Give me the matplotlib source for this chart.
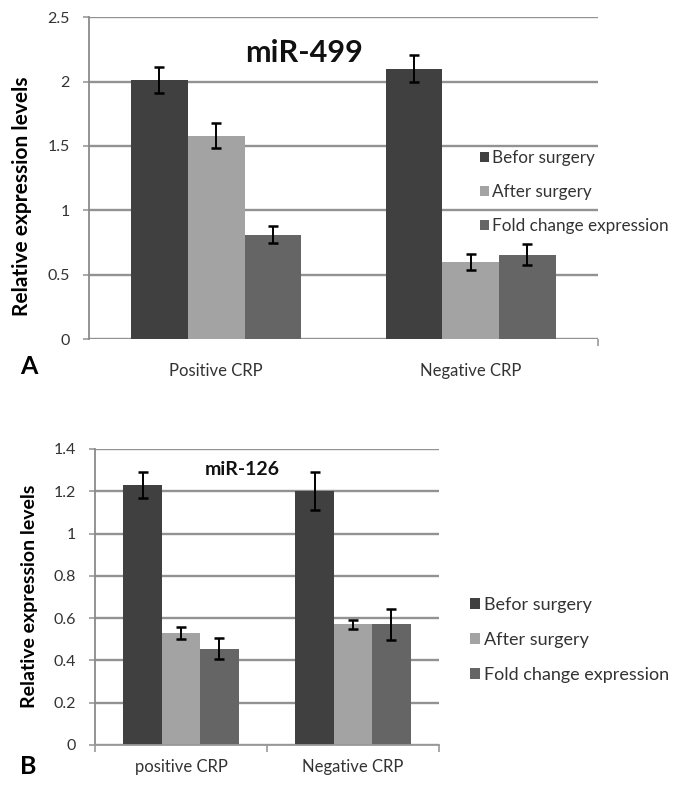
import matplotlib
matplotlib.use("Agg")
import matplotlib.pyplot as plt
import numpy as np

plt.rcParams['font.family'] = ['Lato', 'DejaVu Sans']

series_names = ["Befor surgery", "After surgery", "Fold change expression"]
colors = ["#404040", "#a3a3a3", "#656565"]

# Panel A: miR-499
cats_a = ["Positive CRP", "Negative CRP"]
before_a = [2.01, 2.10]
before_a_err = [0.10, 0.105]
after_a = [1.58, 0.60]
after_a_err = [0.10, 0.06]
fold_a = [0.81, 0.655]
fold_a_err = [0.065, 0.08]
yticks_a = [0, 0.5, 1, 1.5, 2, 2.5]
yticklabels_a = ["0", "0.5", "1", "1.5", "2", "2.5"]

# Panel B: miR-126
cats_b = ["positive CRP", "Negative CRP"]
before_b = [1.23, 1.20]
before_b_err = [0.06, 0.09]
after_b = [0.53, 0.57]
after_b_err = [0.03, 0.022]
fold_b = [0.455, 0.57]
fold_b_err = [0.05, 0.072]
yticks_b = [0, 0.2, 0.4, 0.6, 0.8, 1.0, 1.2, 1.4]
yticklabels_b = ["0", "0.2", "0.4", "0.6", "0.8", "1", "1.2", "1.4"]

fig = plt.figure(figsize=(6.86, 7.89), dpi=100)

def draw(ax, cats, vals, errs, yticks, yticklabels, ymax, xpad, minor):
    x = np.arange(len(cats))
    w = 0.223
    for i, (v, e) in enumerate(zip(vals, errs)):
        ax.bar(x + (i - 1) * w, v, w, color=colors[i], label=series_names[i], zorder=2)
        ax.errorbar(x + (i - 1) * w, v, yerr=e, fmt='none', ecolor='black',
                    elinewidth=1.4, capsize=3.5, capthick=1.8, zorder=3)
    ax.set_xlim(-0.5, len(cats) - 0.5)
    ax.set_ylim(0, ymax)
    ax.set_yticks(yticks)
    ax.set_yticklabels(yticklabels)
    ax.yaxis.grid(True, color="#929292", linewidth=1.7, zorder=0)
    ax.set_axisbelow(True)
    ax.set_xticks(x)
    ax.set_xticklabels(cats)
    ax.set_xticks(minor, minor=True)
    ax.tick_params(axis='x', which='major', length=0, pad=xpad, labelsize=12, labelcolor="#333333")
    ax.tick_params(axis='x', which='minor', length=5, width=1.2, color="#999999", direction='out')
    ax.tick_params(axis='y', length=4, width=1.2, color="#999999", labelsize=11.5,
                   labelcolor="#333333", pad=10)
    for s in ["top", "right"]:
        ax.spines[s].set_visible(False)
    ax.spines["left"].set_color("#8a8a8a")
    ax.spines["bottom"].set_color("#999999")
    ax.spines["left"].set_linewidth(1.3)
    ax.spines["bottom"].set_linewidth(1.3)

axA = fig.add_axes([0.1297, 0.5703, 0.742, 0.408])
draw(axA, cats_a, [before_a, after_a, fold_a], [before_a_err, after_a_err, fold_a_err],
     yticks_a, yticklabels_a, 2.5, 17.5, [1.5])
axA.spines["bottom"].set_visible(False)
axA.set_ylabel("Relative expression levels", fontsize=15, fontweight='bold')
axA.yaxis.set_label_coords(-0.112, 0.444)
axA.text(0.422, 0.887, "miR-499", transform=axA.transAxes, ha='center', va='center',
         fontsize=22, fontweight='bold', color="#111111")
axA.legend(loc='upper left', bbox_to_anchor=(0.677, 0.8295), bbox_transform=fig.transFigure,
           frameon=False, fontsize=12.3, handlelength=0.53, handleheight=0.53,
           handletextpad=0.2, labelspacing=1.05, labelcolor="#333333")

axB = fig.add_axes([0.1385, 0.0558, 0.5015, 0.3752])
draw(axB, cats_b, [before_b, after_b, fold_b], [before_b_err, after_b_err, fold_b_err],
     yticks_b, yticklabels_b, 1.4, 10, [-0.5, 0.5, 1.5])
axB.set_ylabel("Relative expression levels", fontsize=14, fontweight='bold')
axB.yaxis.set_label_coords(-0.165, 0.503)
axB.text(0.427, 0.932, "miR-126", transform=axB.transAxes, ha='center', va='center',
         fontsize=14, fontweight='bold', color="#111111")
axB.legend(loc='upper left', bbox_to_anchor=(0.661, 0.2636), bbox_transform=fig.transFigure,
           frameon=False, fontsize=13, handlelength=0.55, handleheight=0.55,
           handletextpad=0.22, labelspacing=1.05, labelcolor="#333333")

fig.text(0.029, 0.536, "A", fontsize=18, fontweight='bold', va='center', ha='left')
fig.text(0.029, 0.029, "B", fontsize=18, fontweight='bold', va='center', ha='left')

fig.savefig("out.png", dpi=100, facecolor='white')
